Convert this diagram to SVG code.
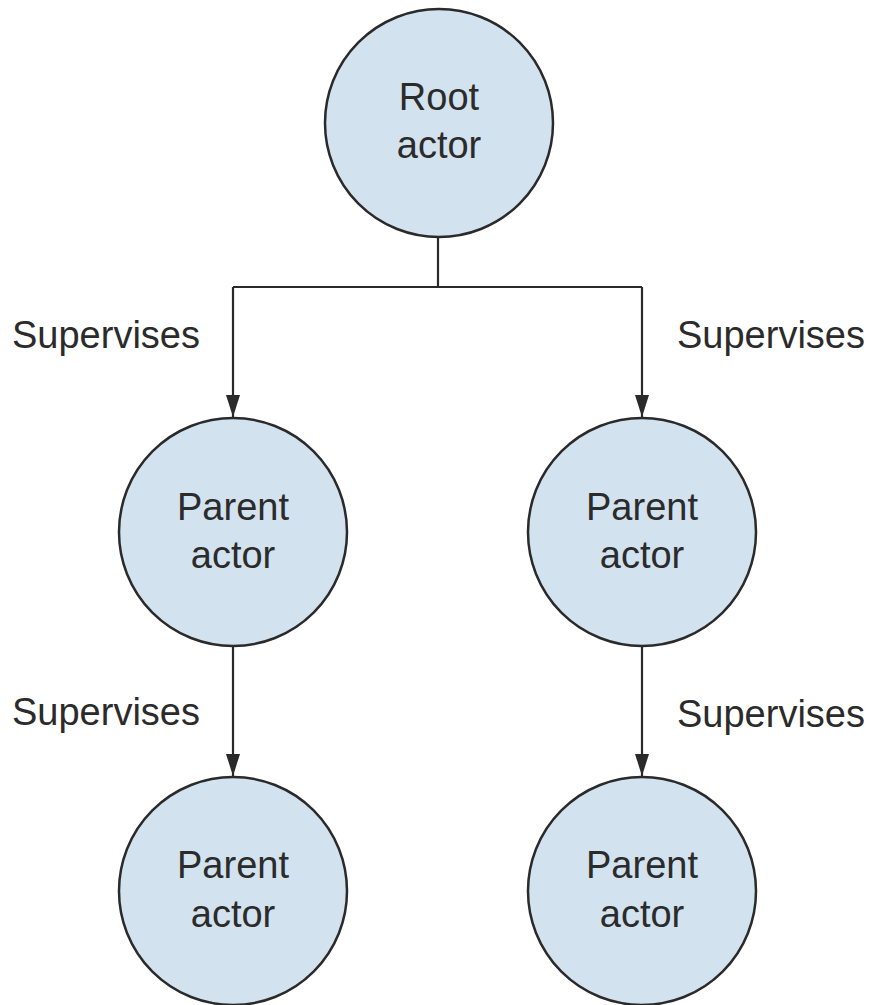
<svg xmlns="http://www.w3.org/2000/svg" width="870" height="1005" viewBox="0 0 870 1005">
  <style>
    .node circle { fill: #d2e2ee; stroke: #2a2a2a; stroke-width: 2.5; }
    .node text, .label { font-family: "Liberation Sans", Arial, sans-serif; font-size: 38px; fill: #2b2b2b; }
    .node text { text-anchor: middle; }
    .edge { fill: none; stroke: #2a2a2a; stroke-width: 2.2; }
  </style>
  <defs>
    <marker id="head" viewBox="0 0 22 14" refX="22" refY="7" markerWidth="22" markerHeight="14" markerUnits="userSpaceOnUse" orient="auto">
      <path d="M0,0 L22,7 L0,14 Z" fill="#2a2a2a"/>
    </marker>
  </defs>

  <!-- connectors and their labels -->
  <g id="connectors">
    <path class="edge" d="M438,237 V287"/>
    <path class="edge" d="M233,287 H642"/>
    <path class="edge" d="M233,287 V417" marker-end="url(#head)"/>
    <path class="edge" d="M642,287 V417" marker-end="url(#head)"/>
    <path class="edge" d="M233,646 V776" marker-end="url(#head)"/>
    <path class="edge" d="M642,646 V776" marker-end="url(#head)"/>
    <text class="label" x="12" y="348">Supervises</text>
    <text class="label" x="677" y="348">Supervises</text>
    <text class="label" x="12" y="725">Supervises</text>
    <text class="label" x="677" y="727">Supervises</text>
  </g>

  <g id="root" class="node">
    <circle cx="439" cy="123" r="114"/>
    <text x="439" y="110">Root</text>
    <text x="439" y="158">actor</text>
  </g>

  <g id="parent-left" class="node">
    <circle cx="233" cy="532" r="114"/>
    <text x="233" y="520">Parent</text>
    <text x="233" y="568">actor</text>
  </g>

  <g id="parent-right" class="node">
    <circle cx="642" cy="532" r="114"/>
    <text x="642" y="520">Parent</text>
    <text x="642" y="568">actor</text>
  </g>

  <g id="child-left" class="node">
    <circle cx="233" cy="891" r="114"/>
    <text x="233" y="878">Parent</text>
    <text x="233" y="927">actor</text>
  </g>

  <g id="child-right" class="node">
    <circle cx="642" cy="891" r="114"/>
    <text x="642" y="878">Parent</text>
    <text x="642" y="927">actor</text>
  </g>
</svg>
